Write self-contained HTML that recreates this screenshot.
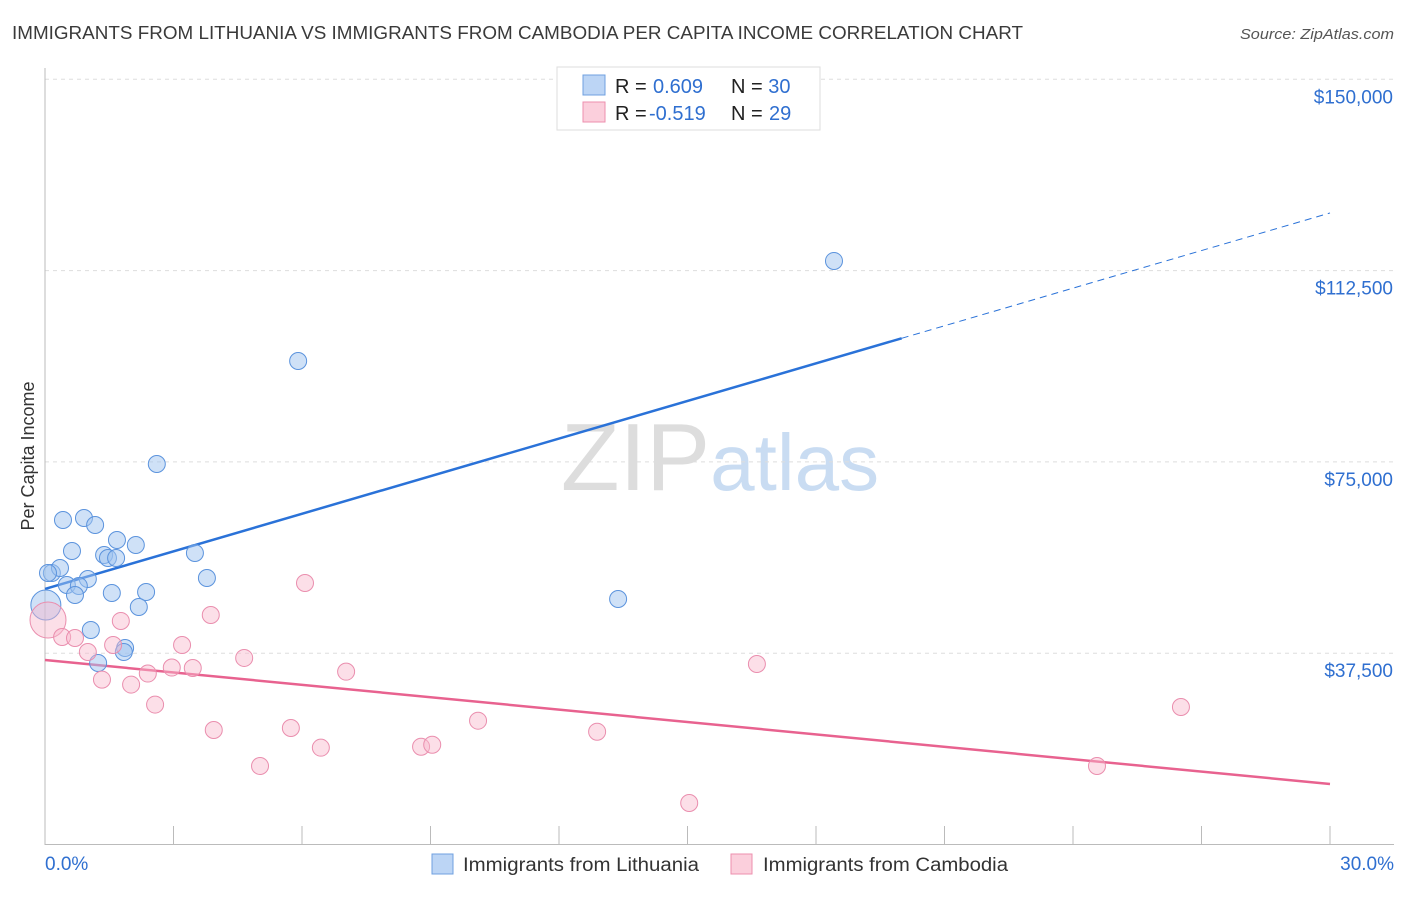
<!DOCTYPE html>
<html><head><meta charset="utf-8"><style>
body{margin:0;background:#fff;font-family:"Liberation Sans",sans-serif;}
svg text{font-family:"Liberation Sans",sans-serif;}
</style></head><body>
<svg id="chart" width="1406" height="892" xmlns="http://www.w3.org/2000/svg">
<text x="12" y="39" font-size="18" fill="#3a3a3a" textLength="1011" lengthAdjust="spacingAndGlyphs">IMMIGRANTS FROM LITHUANIA VS IMMIGRANTS FROM CAMBODIA PER CAPITA INCOME CORRELATION CHART</text>
<text x="1240" y="39" font-size="15" fill="#555" font-style="italic" textLength="154" lengthAdjust="spacingAndGlyphs">Source: ZipAtlas.com</text>
<text x="720" y="490" font-size="96" text-anchor="middle" fill="#ddd" font-family="Liberation Serif,serif">ZIP<tspan fill="#c9dcf2" font-family="Liberation Sans,sans-serif" font-size="80">atlas</tspan></text>
<text transform="translate(34,456) rotate(-90)" font-size="18" fill="#333" text-anchor="middle">Per Capita Income</text>
<g id="grid"></g><g id="axes"></g><g id="lines"></g><g id="points"></g>
<g>
<rect x="557" y="67" width="263" height="63" fill="#fff" stroke="#ddd"/>
<rect x="583" y="75" width="22" height="20" fill="#bcd5f5" stroke="#6fa0e0"/>
<rect x="583" y="102" width="22" height="20" fill="#fbcfdc" stroke="#ec8fae"/>
<text x="615" y="93" font-size="20" fill="#222">R = <tspan fill="#2f6fd0" x="653">0.609</tspan><tspan x="731" fill="#222">N = </tspan><tspan fill="#2f6fd0">30</tspan></text>
<text x="615" y="120" font-size="20" fill="#222">R = <tspan fill="#2f6fd0" x="649">-0.519</tspan><tspan x="731" fill="#222">N = </tspan><tspan fill="#2f6fd0" x="769">29</tspan></text>
</g>
<g>
<rect x="432" y="854" width="21" height="20" fill="#bcd5f5" stroke="#6fa0e0"/>
<text x="463" y="871" font-size="19" fill="#333" textLength="236" lengthAdjust="spacingAndGlyphs">Immigrants from Lithuania</text>
<rect x="731" y="854" width="21" height="20" fill="#fbcfdc" stroke="#ec8fae"/>
<text x="763" y="871" font-size="19" fill="#333" textLength="245" lengthAdjust="spacingAndGlyphs">Immigrants from Cambodia</text>
</g>
</svg>
<script>
const yTicks=[37500,75000,112500,150000];
const yTickLabels=["$37,500","$75,000","$112,500","$150,000"];
const xTickLabels=["0.0%","30.0%"];
const lithX=[0.42,0.91,1.17,0.63,1.68,2.12,1.38,1.47,1.66,0.16,0.35,0.07,1.00,0.51,0.79,0.70,1.56,2.36,2.19,1.07,1.87,1.84,1.24,3.50,3.78,2.61,5.91,13.38,18.42,0.02];
const lithY=[63610,64000,62630,57530,59690,58710,56750,56160,56160,53220,54200,53220,52050,50870,50680,48910,49300,49500,46560,42050,38520,37740,35580,57140,52240,74590,94780,48130,114390,46950];
const cambX=[0.07,0.40,0.70,1.00,1.59,1.77,1.33,2.01,2.40,2.57,2.96,3.20,3.45,3.87,3.94,4.65,5.02,5.74,6.07,6.44,7.03,8.78,9.04,10.11,12.89,15.04,16.62,24.56,26.52];
const cambY=[44010,40680,40480,37740,39110,43820,32330,31350,33510,27430,34690,39110,34600,44990,22450,36570,15390,22840,51260,18980,33880,19170,19560,24270,22110,8130,35380,15390,26950];
const lithTrend=[50090,123800];
const cambTrend=[36160,11860];
const lithSolidEnd=20.0;
const NS="http://www.w3.org/2000/svg";
const X=v=>45+v/30*1285, Y=v=>844.5-v/37500*191.3;
function mk(tag,attrs,parent){const e=document.createElementNS(NS,tag);for(const k in attrs)e.setAttribute(k,attrs[k]);document.getElementById(parent).appendChild(e);return e;}
yTicks.forEach((t,i)=>{
 const l=mk('line',{x1:45,x2:1394,y1:Y(t),y2:Y(t),stroke:'#ddd','stroke-dasharray':'4,4'},'grid');
 
 
 const tx=mk('text',{x:1393,y:Y(t)+24,'font-size':19,fill:'#2f6fd0','text-anchor':'end'},'axes');tx.textContent=yTickLabels[i];
 
 
});
mk('line',{x1:45,x2:45,y1:68,y2:845,stroke:'#bbb'},'axes');
mk('line',{x1:45,x2:1394,y1:844.5,y2:844.5,stroke:'#bbb'},'axes');
for(let i=0;i<=10;i++){mk('line',{x1:45+i*128.5,x2:45+i*128.5,y1:826,y2:845,stroke:'#bbb'},'axes');}
[[0,'start',45],[1,'end',1394]].forEach(([i,a,x])=>{const t=mk('text',{x:x,y:870,'font-size':19,fill:'#2f6fd0','text-anchor':a},'axes');t.textContent=xTickLabels[i];
 
 });
const ly=x=>lithTrend[0]+(lithTrend[1]-lithTrend[0])*x/30;
const l1=mk('line',{x1:X(0),y1:Y(ly(0)),x2:X(lithSolidEnd),y2:Y(ly(lithSolidEnd)),stroke:'#2a72d8','stroke-width':2.5},'lines');


const l2=mk('line',{x1:X(lithSolidEnd),y1:Y(ly(lithSolidEnd)),x2:X(30),y2:Y(ly(30)),stroke:'#2a72d8','stroke-width':1,'stroke-dasharray':'7,5'},'lines');


const l3=mk('line',{x1:X(0),y1:Y(cambTrend[0]),x2:X(30),y2:Y(cambTrend[1]),stroke:'#e8628f','stroke-width':2.5},'lines');


lithX.forEach((x,i)=>{const c=mk('circle',{cx:X(x),cy:Y(lithY[i]),r:i==29?15:8.5,fill:'rgba(160,195,240,0.5)',stroke:'#5b93dd','stroke-width':1},'points');
 
 });
cambX.forEach((x,i)=>{const c=mk('circle',{cx:X(x),cy:Y(cambY[i]),r:i==0?18:8.5,fill:'rgba(248,185,205,0.45)',stroke:'#ea8eae','stroke-width':1},'points');
 
 });
</script>
</body></html>
